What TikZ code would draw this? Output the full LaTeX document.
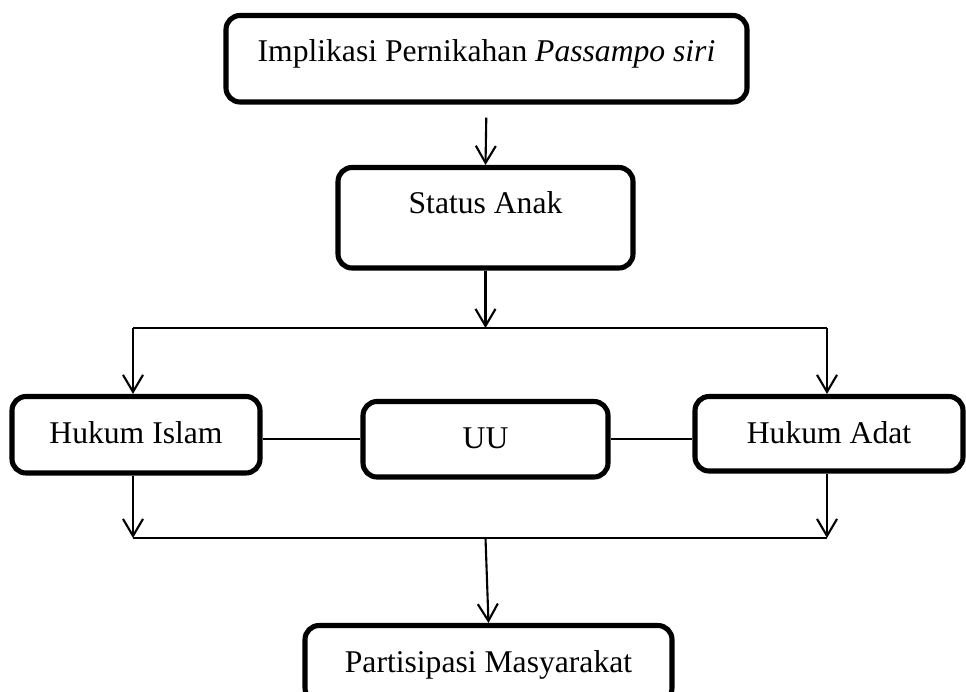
\documentclass[tikz,border=0pt]{standalone}
\usepackage{fontspec}
\setmainfont{Liberation Serif}
\usetikzlibrary{positioning,arrows.meta}
\tikzset{
  mbox/.style  = {draw=black, line width=2.9pt, rounded corners=8pt, anchor=base,
                  inner xsep=0pt, inner ysep=0pt, text height=0.93cm,
                  text depth=0.58cm, font=\fontsize{18}{21.6}\selectfont},
  link/.style  = {draw=black, line width=1.2pt},
  flow/.style  = {link, -{Straight Barb[length=0.34cm, width=0.4cm]}},
}
\begin{document}
\begin{tikzpicture}
    \useasboundingbox (0,0) rectangle (19.32,13.82);

    \node[mbox, minimum width=10.42cm, text depth=0.80cm] (impl) at (9.73, 12.58)
          {Implikasi Pernikahan \textit{Passampo siri}};
    \node[mbox, minimum width=5.90cm, text depth=1.08cm] (status) at (9.71, 9.54) {Status Anak};

    \node[mbox, minimum width=4.96cm, text depth=0.60cm] (islam) at (2.72, 4.96) {Hukum Islam};
    \node[mbox, minimum width=4.90cm] (uu) at (9.71, 4.86) {UU};
    \node[mbox, minimum width=5.36cm, text depth=0.56cm] (adat) at (16.58, 4.96) {Hukum Adat};

    \node[mbox, minimum width=7.34cm, text depth=0.60cm] (partisipasi) at (9.77, 0.38)
          {Partisipasi Masyarakat};

    % branch and join points
    \coordinate (atas)   at (9.71, 7.26);
    \coordinate (atasL)  at (2.66, 7.26);
    \coordinate (atasR)  at (16.54, 7.26);
    \coordinate (bawah)  at (9.71, 3.06);
    \coordinate (bawahL) at (2.66, 3.06);
    \coordinate (bawahR) at (16.54, 3.06);

    \draw[flow, shorten <=0.26cm] (impl.south) -- (status.north);
    \draw[flow] (status.south) -- (atas);
    \draw[link] (atasL) -- (atasR);
    \draw[flow] (atasL) -- (atasL |- islam.north);
    \draw[flow] (atasR) -- (atasR |- adat.north);

    \draw[link] (uu.west) -- (uu.west -| islam.east);
    \draw[link] (uu.east) -- (uu.east -| adat.west);

    \draw[flow] (bawahL |- islam.south) -- (bawahL);
    \draw[flow] (bawahR |- adat.south) -- (bawahR);
    \draw[link] (bawahL) -- (bawahR);
    \draw[flow] (bawah) -- (partisipasi.north);
  \end{tikzpicture}
\end{document}
